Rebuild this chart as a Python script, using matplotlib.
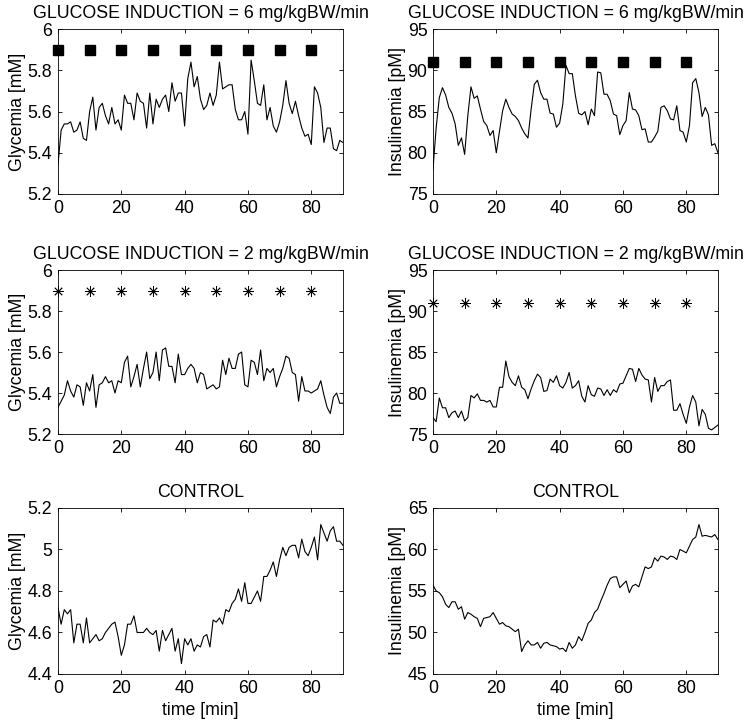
import numpy as np
import matplotlib
matplotlib.use("Agg")
import matplotlib.pyplot as plt

plt.rcParams['font.family'] = ['Liberation Sans', 'DejaVu Sans']

t = np.arange(0, 91)
t_marks = [0, 10, 20, 30, 40, 50, 60, 70, 80]

# glycemia, glucose induction 6 mg/kgBW/min
gly_6 = [5.34, 5.51, 5.54, 5.54, 5.55, 5.50, 5.51, 5.55, 5.47, 5.46,
         5.60, 5.67, 5.51, 5.62, 5.64, 5.58, 5.54, 5.62, 5.54, 5.56,
         5.51, 5.68, 5.64, 5.64, 5.56, 5.69, 5.65, 5.64, 5.52, 5.69,
         5.54, 5.66, 5.62, 5.66, 5.68, 5.60, 5.74, 5.65, 5.69, 5.69,
         5.53, 5.76, 5.84, 5.72, 5.77, 5.66, 5.61, 5.63, 5.69, 5.63,
         5.68, 5.84, 5.71, 5.72, 5.73, 5.73, 5.61, 5.56, 5.56, 5.60,
         5.49, 5.85, 5.75, 5.64, 5.63, 5.73, 5.56, 5.62, 5.53, 5.50,
         5.55, 5.63, 5.75, 5.64, 5.59, 5.65, 5.58, 5.52, 5.48, 5.49,
         5.44, 5.72, 5.69, 5.62, 5.45, 5.52, 5.52, 5.42, 5.41, 5.46,
         5.45]

# insulinemia, glucose induction 6 mg/kgBW/min
ins_6 = [78.0, 83.0, 86.7, 87.9, 87.0, 85.5, 84.8, 83.5, 80.9, 81.8,
         79.8, 84.5, 88.0, 86.6, 86.9, 85.3, 83.8, 83.3, 82.1, 82.7,
         80.0, 82.6, 85.1, 86.5, 85.5, 84.7, 84.4, 83.9, 83.0, 82.3,
         81.8, 85.3, 88.3, 88.8, 87.3, 86.5, 86.5, 84.8, 84.7, 83.1,
         83.6, 85.9, 90.6, 89.6, 89.6, 86.9, 84.8, 84.6, 85.0, 83.4,
         85.3, 84.5, 89.8, 89.7, 87.1, 87.1, 86.3, 84.7, 84.5, 82.2,
         83.3, 83.9, 87.3, 85.3, 85.2, 84.5, 82.8, 82.9, 81.3, 81.3,
         81.9, 82.6, 85.5, 85.7, 85.1, 84.1, 84.0, 85.7, 82.7, 82.5,
         81.3, 83.3, 88.5, 89.0, 87.3, 84.4, 85.5, 84.6, 80.9, 81.1,
         80.0]

# glycemia, glucose induction 2 mg/kgBW/min
gly_2 = [5.33, 5.36, 5.39, 5.46, 5.41, 5.38, 5.44, 5.43, 5.34, 5.45,
         5.41, 5.49, 5.33, 5.44, 5.45, 5.48, 5.45, 5.46, 5.40, 5.46,
         5.45, 5.55, 5.58, 5.43, 5.48, 5.54, 5.43, 5.52, 5.60, 5.47,
         5.50, 5.60, 5.46, 5.61, 5.62, 5.53, 5.53, 5.45, 5.59, 5.49,
         5.49, 5.52, 5.54, 5.52, 5.45, 5.50, 5.49, 5.42, 5.43, 5.44,
         5.42, 5.43, 5.56, 5.49, 5.57, 5.52, 5.52, 5.59, 5.60, 5.44,
         5.43, 5.56, 5.55, 5.49, 5.61, 5.46, 5.52, 5.50, 5.52, 5.43,
         5.48, 5.52, 5.58, 5.57, 5.50, 5.49, 5.36, 5.48, 5.41, 5.41,
         5.40, 5.41, 5.42, 5.46, 5.39, 5.33, 5.30, 5.38, 5.40, 5.35,
         5.35]

# insulinemia, glucose induction 2 mg/kgBW/min
ins_2 = [77.0, 76.5, 79.4, 78.2, 78.2, 77.0, 77.6, 77.8, 77.0, 77.8,
         76.6, 77.0, 79.7, 79.4, 79.9, 79.1, 79.1, 78.9, 79.1, 78.3,
         78.3, 80.7, 80.7, 83.9, 82.0, 81.3, 80.9, 82.1, 80.7, 80.4,
         79.3, 80.5, 81.5, 82.3, 81.9, 80.2, 80.3, 81.7, 81.3, 82.1,
         80.9, 80.6, 81.3, 82.5, 80.6, 80.9, 81.5, 79.6, 78.9, 80.9,
         79.8, 79.6, 80.6, 80.5, 79.7, 80.4, 79.7, 80.4, 80.1, 81.1,
         81.2, 82.1, 83.0, 82.9, 81.4, 83.0, 82.2, 81.7, 81.6, 78.9,
         81.9, 80.2, 80.9, 80.9, 81.4, 81.6, 77.9, 77.9, 78.7, 77.4,
         76.3, 78.3, 79.7, 78.9, 76.0, 78.0, 77.4, 75.7, 75.5, 75.8,
         76.1]

# glycemia, control
gly_c = [4.72, 4.64, 4.71, 4.69, 4.71, 4.55, 4.64, 4.64, 4.55, 4.67,
         4.55, 4.57, 4.59, 4.56, 4.57, 4.60, 4.62, 4.64, 4.65, 4.58,
         4.49, 4.54, 4.64, 4.64, 4.68, 4.60, 4.60, 4.60, 4.62, 4.60,
         4.59, 4.61, 4.51, 4.61, 4.56, 4.59, 4.62, 4.51, 4.57, 4.45,
         4.57, 4.54, 4.57, 4.51, 4.54, 4.53, 4.58, 4.59, 4.53, 4.66,
         4.65, 4.67, 4.64, 4.71, 4.70, 4.74, 4.76, 4.81, 4.75, 4.84,
         4.74, 4.74, 4.77, 4.80, 4.75, 4.87, 4.87, 4.90, 4.94, 4.87,
         4.95, 5.01, 4.97, 5.01, 5.02, 5.02, 4.96, 5.05, 4.99, 4.97,
         5.01, 5.06, 4.95, 5.12, 5.08, 5.04, 5.09, 5.11, 5.04, 5.04,
         5.02]

# insulinemia, control
ins_c = [55.7, 55.0, 54.8, 54.3, 53.4, 53.0, 53.7, 53.7, 52.8, 53.1,
         51.6, 52.4, 52.2, 51.9, 51.7, 50.7, 51.7, 51.8, 51.9, 52.4,
         51.7, 51.0, 51.2, 50.8, 50.7, 50.4, 50.1, 50.4, 47.7, 48.5,
         49.0, 48.5, 48.5, 48.8, 48.1, 48.7, 48.8, 48.5, 48.4, 48.3,
         48.0, 48.1, 47.7, 48.8, 48.1, 48.5, 49.5, 49.0, 50.0, 51.1,
         51.5, 52.4, 52.8, 53.8, 54.7, 55.7, 56.5, 56.7, 56.7, 55.4,
         55.8, 56.2, 54.8, 55.6, 55.8, 55.5, 56.7, 57.9, 57.7, 57.9,
         59.0, 58.6, 59.2, 59.1, 58.8, 59.2, 59.1, 58.8, 60.0, 59.8,
         59.6, 60.4, 61.2, 61.5, 63.0, 61.6, 61.7, 61.6, 61.5, 61.8,
         61.2]

titles = ['GLUCOSE INDUCTION = 6 mg/kgBW/min',
          'GLUCOSE INDUCTION = 2 mg/kgBW/min',
          'CONTROL']

fig = plt.figure(figsize=(7.46, 7.23), dpi=100)

left_x = [0.0777, 0.5804]
w = 0.382
rows = [(0.7317, 0.228), (0.3997, 0.2268), (0.0678, 0.2296)]

panels = [
    # (row, col, data, ylim, yticks, ylabel, marker, marker_y)
    (0, 0, gly_6, (5.2, 6.0), [5.2, 5.4, 5.6, 5.8, 6.0], 'Glycemia [mM]', 's', 5.9),
    (0, 1, ins_6, (75, 95), [75, 80, 85, 90, 95], 'Insulinemia [pM]', 's', 91),
    (1, 0, gly_2, (5.2, 6.0), [5.2, 5.4, 5.6, 5.8, 6.0], 'Glycemia [mM]', (8, 2, 0), 5.9),
    (1, 1, ins_2, (75, 95), [75, 80, 85, 90, 95], 'Insulinemia [pM]', (8, 2, 0), 91),
    (2, 0, gly_c, (4.4, 5.2), [4.4, 4.6, 4.8, 5.0, 5.2], 'Glycemia [mM]', None, None),
    (2, 1, ins_c, (45, 65), [45, 50, 55, 60, 65], 'Insulinemia [pM]', None, None),
]

fs = 12.8

for r, c, data, ylim, yticks, ylab, mk, my in panels:
    b, h = rows[r]
    ax = fig.add_axes([left_x[c], b, w, h])
    ax.plot(t, data, color='black', lw=0.8)
    if mk == 's':
        ax.plot(t_marks, [my] * len(t_marks), 's', color='black', ms=6.5,
                clip_on=False)
    elif mk is not None:
        ax.plot(t_marks, [my] * len(t_marks), linestyle='none', marker=mk,
                color='black', ms=7.5, mew=0.6, clip_on=False)
    ax.set_xlim(0, 90)
    ax.set_ylim(*ylim)
    ax.set_xticks([0, 20, 40, 60, 80])
    ax.set_yticks(yticks)
    ax.set_yticklabels(['%g' % v for v in yticks])
    ax.tick_params(direction='in', length=3, width=0.6, labelsize=fs,
                   top=True, right=True, pad=4)
    for s in ax.spines.values():
        s.set_linewidth(0.6)
    ax.set_ylabel(ylab, fontsize=fs, labelpad=1)
    ax.set_title(titles[r], fontsize=fs, pad=8)
    if r == 2:
        ax.set_xlabel('time [min]', fontsize=fs, labelpad=4)

fig.savefig('out.png', dpi=100)
